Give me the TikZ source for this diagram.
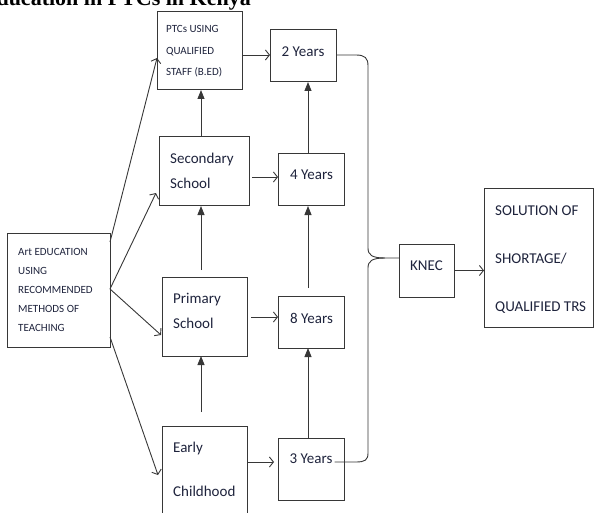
\documentclass[tikz,border=0pt]{standalone}
\usepackage{fontspec}
\setmainfont{Carlito}
\newfontfamily\titlefont{Liberation Serif}
\usetikzlibrary{arrows.meta,calc}
\definecolor{linec}{RGB}{55,55,55}
\definecolor{txtc}{RGB}{30,35,60}
\begin{document}
\begin{tikzpicture}[x=1pt,y=-1pt,
  box/.style={draw=linec,line width=1pt,inner sep=0pt,outer sep=0pt},
  lbl/.style={inner sep=0pt,text=txtc,align=left},
  smalltxt/.style={font=\fontsize{11}{#1}\selectfont},
  bigtxt/.style={font=\fontsize{15}{#1}\selectfont},
  conn/.style={draw=linec,line width=0.9pt},
  harrow/.style={conn,-{Straight Barb[length=4pt,width=10pt,line width=0.9pt]}},
  varrow/.style={conn,-{Triangle[length=9pt,width=7pt]}}
]
\useasboundingbox (0,0) rectangle (594,513);
\clip (0,0) rectangle (594,513);

% title (cut at the top edge, as in the reference)
\node[anchor=base east,inner sep=0pt,font=\titlefont\bfseries\fontsize{22}{22}\selectfont] (title) at (251,5.5) {Education in PTCs in Kenya};

% boxes
\node[box,minimum width=103pt,minimum height=114pt] (art) at (58.5,290) {};
\node[box,minimum width=85pt,minimum height=78pt] (ptc) at (199.5,51) {};
\node[box,minimum width=90pt,minimum height=69pt] (sec) at (204,171.5) {};
\node[box,minimum width=85pt,minimum height=79pt] (pri) at (204.5,316.5) {};
\node[box,minimum width=85pt,minimum height=94pt] (early) at (204.5,473) {};
\node[box,minimum width=66pt,minimum height=52pt] (y2) at (303,56) {};
\node[box,minimum width=66pt,minimum height=52pt] (y4) at (311,180) {};
\node[box,minimum width=66pt,minimum height=52pt] (y8) at (311,322) {};
\node[box,minimum width=66pt,minimum height=62pt] (y3) at (311,469) {};
\node[box,minimum width=55pt,minimum height=53pt] (knec) at (426.5,270.5) {};
\node[box,minimum width=109pt,minimum height=138pt] (sol) at (538.5,258) {};

% texts
\node[lbl,smalltxt=19pt,anchor=west] (tart) at (18,289.5) {Art EDUCATION\\USING\\RECOMMENDED\\METHODS OF\\TEACHING};
\node[lbl,smalltxt=21.5pt,anchor=west] (tptc) at (166,51.5) {PTCs USING\\QUALIFIED\\STAFF (B.ED)};
\node[lbl,bigtxt=25pt,anchor=west] (tsec) at (170,170.5) {Secondary\\School};
\node[lbl,bigtxt=25pt,anchor=west] (tpri) at (173,310.5) {Primary\\School};
\node[lbl,bigtxt=44pt,anchor=west] (tearly) at (173,469) {Early\\Childhood};
\node[lbl,bigtxt=15pt] (t2) at (303,52) {2 Years};
\node[lbl,bigtxt=15pt] (t4) at (311.5,175) {4 Years};
\node[lbl,bigtxt=15pt] (t8) at (311.5,318) {8 Years};
\node[lbl,bigtxt=15pt] (t3) at (311,459) {3 Years};
\node[lbl,bigtxt=15pt] (tknec) at (426.5,266) {KNEC};
\node[lbl,bigtxt=48pt,anchor=west] (tsol) at (495,260) {SOLUTION OF\\SHORTAGE/\\QUALIFIED TRS};

% fan from Art EDUCATION
\draw[harrow] ([shift={(0,-48)}]art.east) -- ([shift={(0,7)}]ptc.west);
\draw[harrow] ([shift={(0,-1)}]art.east) -- ([shift={(-3,21.5)}]sec.west);
\draw[harrow] ([shift={(0,-1)}]art.east) -- ([shift={(-1,18.5)}]pri.west);
\draw[harrow] ([shift={(0,47)}]art.east) -- ([shift={(-4,2)}]early.west);

% horizontal arrows
\draw[harrow] (ptc.east |- 0,55) -- (y2.west |- 0,55);
\draw[harrow] ([shift={(3,5.5)}]sec.east) coordinate (s4) -- (s4 -| y4.west);
\draw[harrow] ([shift={(4,0.5)}]pri.east) coordinate (s8) -- (s8 -| y8.west);
\draw[harrow] ([shift={(0,-11)}]early.east) coordinate (s3) -- ([xshift=-4pt]s3 -| y3.west);
\draw[harrow] (knec.east) -- (knec.east -| sol.west);

% vertical arrows
\draw[varrow] ([shift={(-3,0)}]sec.north) coordinate (v1) -- (v1 |- ptc.south);
\draw[varrow] ([shift={(-3.5,-7)}]pri.north) coordinate (v2) -- (v2 |- sec.south);
\draw[varrow] ([shift={(-3.5,-14)}]early.north) coordinate (v3) -- (v3 |- pri.south);
\draw[varrow] ([shift={(-3,0)}]y4.north) coordinate (w1) -- (w1 |- y2.south);
\draw[varrow] ([shift={(-3,-8)}]y8.north) coordinate (w2) -- (w2 |- y4.south);
\draw[varrow] ([shift={(-3,0)}]y3.north) coordinate (w3) -- (w3 |- y8.south);

% brace into KNEC
\coordinate (kin) at ([shift={(0,-12.5)}]knec.west);
\draw[conn] (y2.east |- 0,55) -- (356,55) .. controls (365,55) and (368,58) .. (368,66)
  -- (368,248) .. controls (368,255) and (372,258) .. (385,258) -- (kin);
\draw[conn] ([shift={(2,3)}]t3.east) -- (356,462) .. controls (365,462) and (368,460) .. (368,453)
  -- (368,268) .. controls (368,261) and (372,258) .. (385,258);
\end{tikzpicture}
\end{document}
